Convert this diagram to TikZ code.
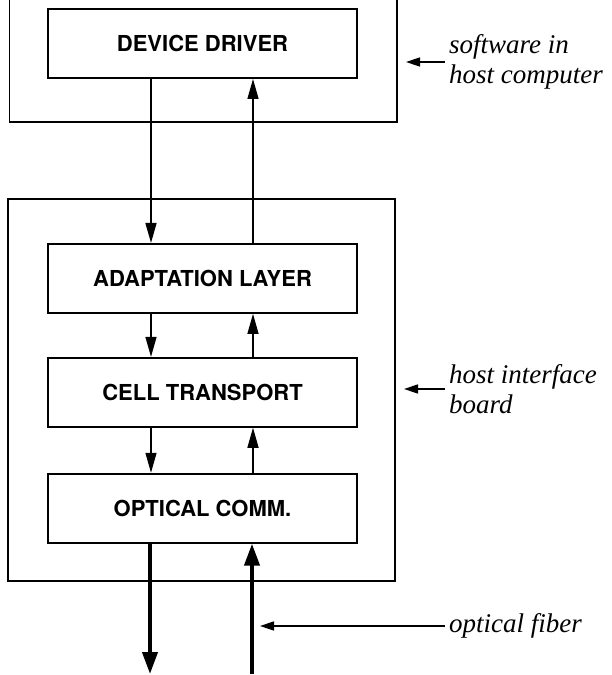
\documentclass[tikz,border=0pt]{standalone}
\usepackage{fontspec}
\setmainfont{Liberation Serif}
\newfontfamily\heros{TeX Gyre Heros}
\usetikzlibrary{arrows.meta, positioning}

\begin{document}
\begin{tikzpicture}[
  x=1pt, y=-1pt,
  capa/.style={rectangle, draw, line width=1.9pt, minimum width=309pt,
    minimum height=69pt, align=center, font=\heros\bfseries\fontsize{22}{26}\selectfont},
  marco/.style={line width=1.9pt},
  flujo/.style={-{Triangle[length=20pt, width=11pt]}, line width=1.4pt},
  fibra/.style={-{Triangle[length=22pt, width=15pt]}, line width=4pt},
  nota/.style={anchor=west, inner sep=4pt, align=left,
    font=\itshape\fontsize{27}{30}\selectfont},
  senal/.style={-{Triangle[length=14pt, width=9pt]}, line width=1.6pt},
]
\useasboundingbox (0,0) rectangle (611,675);

% Capas
\node[capa] (drv) at (202.5,43.5) {DEVICE DRIVER};
\node[capa, below=164pt of drv] (adap) {ADAPTATION LAYER};
\node[capa, below=43pt of adap] (cell) {CELL TRANSPORT};
\node[capa, below=45pt of cell] (opt) {OPTICAL COMM.};

% Marcos
\draw[marco] (9.5,0) |- (397,122) -- (397,0);
\draw[marco] (8,199) rectangle (395,581);

% Flechas entre capas
\draw[flujo] ([xshift=-51.5pt]drv.south) -- ([xshift=-51.5pt]adap.north);
\draw[flujo] ([xshift=50.5pt]adap.north) -- ([xshift=50.5pt]drv.south);
\draw[flujo] ([xshift=-51.5pt]adap.south) -- ([xshift=-51.5pt]cell.north);
\draw[flujo] ([xshift=50.5pt]cell.north) -- ([xshift=50.5pt]adap.south);
\draw[flujo] ([xshift=-51.5pt]cell.south) -- ([xshift=-51.5pt]opt.north);
\draw[flujo] ([xshift=50.5pt]opt.north) -- ([xshift=50.5pt]cell.south);

% Fibra optica
\coordinate (fout) at (150,674);
\coordinate (fin) at (252,674);
\draw[fibra] ([xshift=-52.5pt]opt.south) -- (fout);
\draw[fibra] (fin) -- ([xshift=49.5pt]opt.south);

% Notas
\node[nota] (sw) at (445,62) {software in\\host computer};
\node[nota] (hib) at (445,389) {host interface\\board};
\node[nota] (of) at (445,626) {optical fiber};
\coordinate (swtip) at (406,62);
\coordinate (hibtip) at (404,389);
\coordinate (oftip) at (260,626);
\draw[senal] (sw.west) -- (swtip);
\draw[senal] (hib.west) -- (hibtip);
\draw[senal] (of.west) -- (oftip);

\end{tikzpicture}
\end{document}
